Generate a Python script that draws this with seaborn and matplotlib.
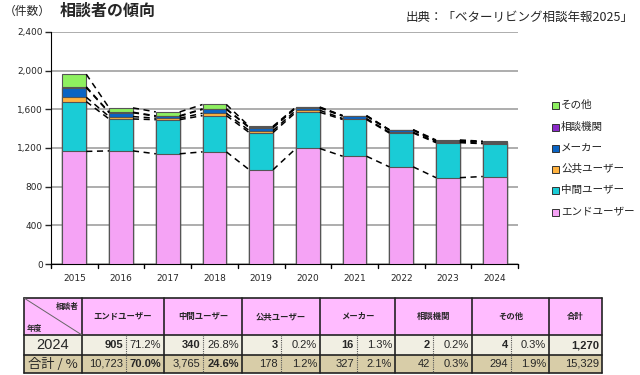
import numpy as np
import pandas as pd
import matplotlib
matplotlib.use("Agg")
import matplotlib.pyplot as plt
import seaborn as sns

# data
years = ["2015", "2016", "2017", "2018", "2019", "2020", "2021", "2022", "2023", "2024"]
categories = ["エンドユーザー", "中間ユーザー", "公共ユーザー", "メーカー", "相談機関", "その他"]
end_user = [1165, 1170, 1140, 1160, 975, 1195, 1115, 1005, 893, 905]
mid_user = [515, 330, 353, 375, 385, 375, 380, 350, 362, 340]
public_user = [45, 25, 15, 25, 20, 20, 10, 8, 7, 3]
maker = [100, 40, 20, 40, 30, 25, 25, 21, 10, 16]
consult = [8, 5, 5, 5, 5, 4, 3, 3, 2, 2]
other = [130, 45, 40, 45, 10, 5, 3, 3, 9, 4]
colors = ["#F5A3F5", "#1ACCD6", "#FFB23F", "#0A64C4", "#8A2BC8", "#8EF060"]

# table data
tbl_headers = ["エンドユーザー", "中間ユーザー", "公共ユーザー", "メーカー", "相談機関", "その他"]
row_2024 = [("905", "71.2%"), ("340", "26.8%"), ("3", "0.2%"), ("16", "1.3%"), ("2", "0.2%"), ("4", "0.3%")]
row_2024_total = "1,270"
row_sum = [("10,723", "70.0%"), ("3,765", "24.6%"), ("178", "1.2%"), ("327", "2.1%"), ("42", "0.3%"), ("294", "1.9%")]
row_sum_total = "15,329"

sns.set_style("white")
plt.rcParams["font.family"] = ["Noto Sans CJK JP", "DejaVu Sans"]

W, H = 640, 375
fig = plt.figure(figsize=(6.4, 3.75), dpi=100)

# background axes in pixel coords for the table and texts
bg = fig.add_axes([0, 0, 1, 1])
bg.set_xlim(0, W)
bg.set_ylim(H, 0)
bg.axis("off")

ax = fig.add_axes([51 / W, 1 - 264 / H, (518 - 51) / W, (264 - 32) / H])

series = [end_user, mid_user, public_user, maker, consult, other]
cum = np.cumsum(np.array(series), axis=0)
df = pd.DataFrame({"year": years})
for k, name in enumerate(categories):
    df[name] = cum[k]

# draw cumulative bars from top layer down
for k in range(len(categories) - 1, -1, -1):
    sns.barplot(data=df, x="year", y=categories[k], color=colors[k], width=0.51,
                edgecolor="#555555", linewidth=0.8, saturation=1, ax=ax, zorder=3)

# series lines between bars
w = 0.51 / 2
for k in range(len(categories)):
    for i in range(len(years) - 1):
        ax.plot([i + w, i + 1 - w], [cum[k][i], cum[k][i + 1]], color="black",
                linestyle=(0, (4, 3)), linewidth=1.1, zorder=4)

ax.set_xlim(-0.5, len(years) - 0.5)
ax.set_ylim(0, 2400)
ax.set_yticks(range(0, 2401, 400))
ax.set_yticklabels([f"{v:,}" for v in range(0, 2401, 400)], fontsize=6.5, family="DejaVu Sans")
ax.set_xticks(range(len(years)))
ax.set_xticklabels(years, fontsize=6.5, family="DejaVu Sans")
ax.set_xlabel("")
ax.set_ylabel("")
ax.yaxis.grid(True, color="#A0A0A0", linewidth=1.2, zorder=0)
ax.set_axisbelow(True)
for s in ["top", "right"]:
    ax.spines[s].set_visible(False)
ax.spines["left"].set_color("black")
ax.spines["bottom"].set_color("black")
ax.tick_params(axis="y", left=True, length=4, width=1, pad=2)
ax.tick_params(axis="x", bottom=False, pad=4)
for xb in np.arange(-0.5, len(years), 1.0):
    ax.plot([xb, xb], [0, -45], color="black", linewidth=1, clip_on=False)

# legend
ly = [105, 127, 148, 169, 190, 212]
for j, k in enumerate(range(len(categories) - 1, -1, -1)):
    bg.add_patch(plt.Rectangle((552, ly[j] - 3.5), 7, 7, facecolor=colors[k],
                               edgecolor="#333333", linewidth=0.7))
    bg.text(561, ly[j], categories[k], fontsize=7.6, va="center", ha="left", color="#222222")

# titles
bg.text(4, 11, "（件数）", fontsize=8.5, va="center", ha="left")
bg.text(60, 11, "相談者の傾向", fontsize=11.5, va="center", ha="left", fontweight="bold")
bg.text(634, 17, "出典：「ベターリビング相談年報2025」", fontsize=9, va="center", ha="right")

# table
xe = [24, 82, 126, 164, 203, 242, 281, 320, 357, 395, 433, 472, 511, 549, 602]
ye = [298, 335, 355, 373]
pink, light, tan = "#FFBBFF", "#F1EFE3", "#D8CDA8"
bg.add_patch(plt.Rectangle((xe[0], ye[0]), xe[-1] - xe[0], ye[1] - ye[0], facecolor=pink, edgecolor="none"))
bg.add_patch(plt.Rectangle((xe[0], ye[1]), xe[-1] - xe[0], ye[2] - ye[1], facecolor=light, edgecolor="none"))
bg.add_patch(plt.Rectangle((xe[0], ye[2]), xe[-1] - xe[0], ye[3] - ye[2], facecolor=tan, edgecolor="none"))

# borders
for y in ye:
    bg.plot([xe[0], xe[-1]], [y, y], color="#222222", linewidth=1.2)
for i in [0, 1, 3, 5, 7, 9, 11, 13, 14]:
    bg.plot([xe[i], xe[i]], [ye[0], ye[3]], color="#222222", linewidth=1.2)
for i in [2, 4, 6, 8, 10, 12]:
    bg.plot([xe[i], xe[i]], [ye[1], ye[3]], color="#555555", linewidth=0.8, linestyle=(0, (1, 1)))
bg.plot([xe[0], xe[1]], [ye[0], ye[1]], color="#666666", linewidth=0.7)
bg.text(xe[1] - 3, ye[0] + 8, "相談者", fontsize=5.5, ha="right", va="center", fontweight="bold")
bg.text(xe[0] + 3, ye[1] - 7, "年度", fontsize=5.5, ha="left", va="center", fontweight="bold")

num_font = "Liberation Sans"
ym = [(ye[0] + ye[1]) / 2, (ye[1] + ye[2]) / 2, (ye[2] + ye[3]) / 2]
for j, name in enumerate(tbl_headers):
    xc = (xe[1 + 2 * j] + xe[3 + 2 * j]) / 2
    bg.text(xc, ym[0], name, fontsize=6, ha="center", va="center", fontweight="bold")
    for r, row in enumerate([row_2024, row_sum]):
        bg.text(xe[2 + 2 * j] - 3, ym[r + 1], row[j][0], fontsize=8, ha="right", va="center",
                fontweight="bold" if r == 0 else "normal", family=num_font)
        bg.text(xe[3 + 2 * j] - 3, ym[r + 1], row[j][1], fontsize=8, ha="right", va="center",
                fontweight="bold" if j < 2 and r == 1 else "normal", family=num_font)
bg.text((xe[13] + xe[14]) / 2, ym[0], "合計", fontsize=6, ha="center", va="center", fontweight="bold")
bg.text(xe[14] - 3, ym[1], row_2024_total, fontsize=8, ha="right", va="center", family=num_font, fontweight="bold")
bg.text(xe[14] - 3, ym[2], row_sum_total, fontsize=8, ha="right", va="center", family=num_font)
bg.text((xe[0] + xe[1]) / 2, ym[1], "2024", fontsize=10.5, ha="center", va="center", family=num_font)
bg.text((xe[0] + xe[1]) / 2, ym[2], "合計 / %", fontsize=9.5, ha="center", va="center")

fig.savefig("out.png", dpi=100)
